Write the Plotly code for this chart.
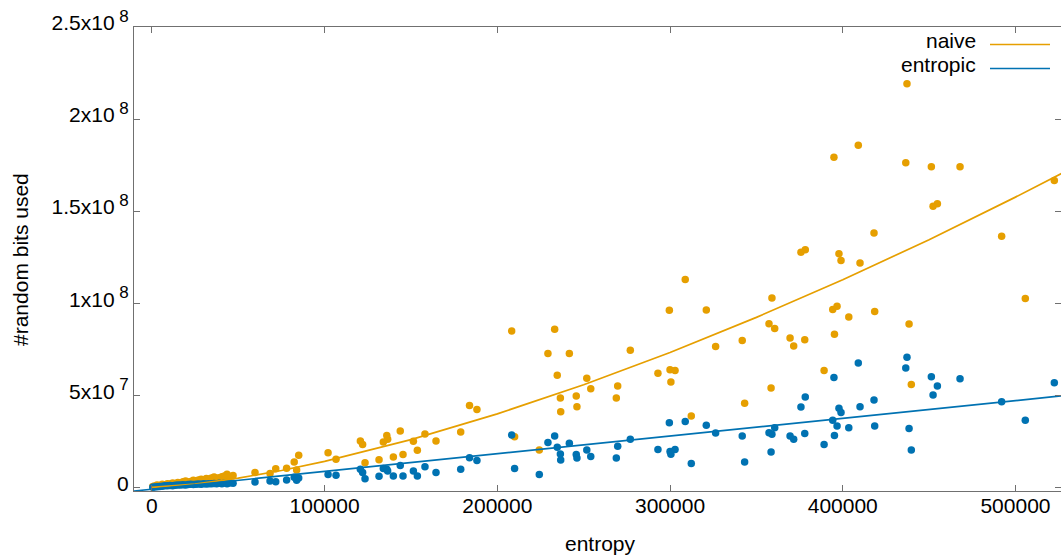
import plotly.graph_objects as go

# entropy values (shared by both series)
entropy = [
    500, 1500, 3000, 4500, 6000, 7500, 9000, 10500, 12000, 13500, 15000, 16500,
    18000, 19500, 21000, 22500, 24000, 25500, 27000, 28500, 30000, 31500, 33000,
    34500, 36000, 37500, 39000, 40500, 42000, 43500, 45000, 47000,
    59700, 68400, 71700, 78000, 82400, 83800, 85000, 102000, 106600, 120700,
    122000, 123400, 131500, 134000, 136000, 136500, 139800, 143800, 145400,
    151400, 153700, 158100, 164500, 178800, 183900, 188200, 208300, 210000,
    224300, 229300, 233200, 234700, 236500, 236700, 241700, 245700, 246100,
    251800, 254100, 269700, 268900, 277000, 293000, 299600, 300000, 302900,
    300500, 308800, 312300, 321000, 326400, 341800, 343200, 357300, 360600,
    359000, 358500, 369500, 371600, 375800, 378000, 378300, 389200, 394200,
    394900, 395200, 396700, 397800, 399000, 403500, 409000, 410000, 418100,
    418500, 436500, 437200, 438400, 439700, 451300, 452300, 454800, 467900,
    492000, 505700, 522500,
]

naive = [
    0.4e6, 0.7e6, 1.2e6, 1.0e6, 1.6e6, 1.4e6, 2.0e6, 1.8e6, 2.3e6, 2.1e6, 2.6e6, 2.4e6,
    3.0e6, 3.4e6, 2.9e6, 3.2e6, 3.8e6, 3.5e6, 4.0e6, 4.4e6, 3.9e6, 4.8e6, 4.5e6,
    5.0e6, 5.6e6, 4.9e6, 5.2e6, 5.8e6, 6.1e6, 7.1e6, 5.9e6, 6.4e6,
    7.98e6, 7.44e6, 10.15e6, 10.3e6, 13.7e6, 9.39e6, 17.4e6, 18.8e6, 15.2e6, 25.1e6,
    23.3e6, 13.4e6, 15.0e6, 24.6e6, 28.2e6, 26.1e6, 16.5e6, 30.6e6, 17.8e6,
    25.0e6, 20.1e6, 28.9e6, 25.1e6, 30.0e6, 44.5e6, 42.3e6, 84.9e6, 27.5e6,
    20.3e6, 72.7e6, 85.8e6, 60.8e6, 48.5e6, 41.1e6, 72.7e6, 49.6e6, 43.8e6,
    59.3e6, 53.6e6, 55.0e6, 48.5e6, 74.5e6, 61.9e6, 96.1e6, 63.9e6, 63.4e6,
    57.2e6, 112.9e6, 38.7e6, 96.3e6, 76.5e6, 79.8e6, 45.6e6, 88.9e6, 86.2e6,
    102.8e6, 53.9e6, 81.1e6, 76.7e6, 127.7e6, 80.2e6, 129.0e6, 63.4e6, 96.6e6,
    179.3e6, 83.1e6, 98.3e6, 126.9e6, 123.2e6, 92.5e6, 185.8e6, 121.8e6, 138.1e6,
    95.5e6, 176.3e6, 219.2e6, 88.7e6, 55.8e6, 174.1e6, 152.7e6, 154.0e6, 174.1e6,
    136.3e6, 102.6e6, 166.7e6,
]

entropic = [
    0.1e6, 0.2e6, 0.35e6, 0.5e6, 0.6e6, 0.8e6, 0.9e6, 1.0e6, 0.9e6, 1.1e6, 1.3e6, 1.2e6,
    1.4e6, 1.3e6, 1.5e6, 1.6e6, 1.5e6, 1.7e6, 1.8e6, 1.6e6, 1.9e6, 1.8e6, 2.0e6,
    1.9e6, 2.1e6, 2.0e6, 2.2e6, 1.9e6, 2.3e6, 2.0e6, 2.4e6, 2.2e6,
    2.88e6, 3.42e6, 3.09e6, 3.96e6, 5.43e6, 3.8e6, 5.05e6, 6.9e6, 6.5e6, 9.77e6,
    7.98e6, 4.72e6, 5.97e6, 10.2e6, 9.77e6, 8.85e6, 6.13e6, 11.9e6, 6.13e6,
    8.85e6, 6.13e6, 11.2e6, 7.98e6, 9.77e6, 16.1e6, 14.5e6, 28.4e6, 10.2e6,
    6.9e6, 24.4e6, 27.9e6, 21.7e6, 18.1e6, 14.8e6, 23.9e6, 17.8e6, 15.9e6,
    20.3e6, 16.8e6, 22.3e6, 15.9e6, 26.1e6, 20.5e6, 35.1e6, 19.4e6, 20.5e6,
    17.9e6, 35.7e6, 13.0e6, 33.7e6, 29.5e6, 27.9e6, 13.7e6, 29.7e6, 32.4e6,
    28.8e6, 19.2e6, 27.9e6, 26.1e6, 43.6e6, 29.2e6, 49.0e6, 23.2e6, 36.4e6,
    59.6e6, 28.2e6, 33.3e6, 42.9e6, 40.7e6, 32.4e6, 67.5e6, 43.8e6, 47.4e6,
    33.3e6, 64.8e6, 70.7e6, 31.9e6, 20.3e6, 60.1e6, 50.1e6, 55.0e6, 59.0e6,
    46.5e6, 36.4e6, 56.8e6,
]

# fitted curves
naive_fit_x = [0, 25000, 50000, 75000, 100000, 150000, 200000, 250000, 300000,
               350000, 400000, 450000, 500000, 527000]
naive_fit_y = [0, 1.76e6, 4.98e6, 9.15e6, 1.41e7, 2.59e7, 3.99e7, 5.57e7, 7.32e7,
               9.23e7, 1.127e8, 1.345e8, 1.576e8, 1.706e8]
entropic_fit_x = [-10400, 0, 100000, 200000, 300000, 400000, 500000, 527000]
entropic_fit_y = [-2.0e6, -1.0e6, 8.6e6, 18.2e6, 27.9e6, 37.5e6, 47.1e6, 49.7e6]

x_ticks = [0, 100000, 200000, 300000, 400000, 500000]
x_tick_labels = ["0", "100000", "200000", "300000", "400000", "500000"]
y_ticks = [0, 5e7, 1e8, 1.5e8, 2e8, 2.5e8]
y_tick_mant = ["0", "5x10", "1x10", "1.5x10", "2x10", "2.5x10"]
y_tick_exp = ["", "7", "8", "8", "8", "8"]

ORANGE = "#E69F00"
BLUE = "#0072B2"
FONT = "Liberation Sans, Arial, sans-serif"

y_tick_labels = [
    m + (f"<sup><span style='font-size:17px'> {e}</span></sup>" if e else "")
    for m, e in zip(y_tick_mant, y_tick_exp)
]

fig = go.Figure()
fig.add_trace(go.Scatter(x=entropy, y=naive, mode="markers",
                         marker=dict(color=ORANGE, size=7.5, line=dict(width=0)),
                         showlegend=False))
fig.add_trace(go.Scatter(x=entropy, y=entropic, mode="markers",
                         marker=dict(color=BLUE, size=7.5, line=dict(width=0)),
                         showlegend=False))
fig.add_trace(go.Scatter(x=naive_fit_x, y=naive_fit_y, mode="lines",
                         line=dict(color=ORANGE, width=1.7), showlegend=False))
fig.add_trace(go.Scatter(x=entropic_fit_x, y=entropic_fit_y, mode="lines",
                         line=dict(color=BLUE, width=1.7), showlegend=False))

axis_common = dict(showgrid=False, zeroline=False, showline=True, linecolor="#707070",
                   linewidth=1, mirror="ticks", ticks="inside", ticklen=6,
                   tickcolor="#707070", tickfont=dict(family=FONT, size=21, color="black"))

fig.update_xaxes(range=[-10364, 526370], tickvals=x_ticks, ticktext=x_tick_labels,
                 ticklabelstandoff=-4, **axis_common)
fig.update_yaxes(range=[-2.0e6, 2.5e8], tickvals=y_ticks, ticktext=y_tick_labels,
                 ticklabelshift=-4, **axis_common)

PW, PH, L, TOP = 927, 464, 134, 27
BOT = TOP + PH

annotations = [
    dict(text="entropy", xref="paper", yref="paper", x=(600 - L) / PW,
         y=(BOT - 543) / PH, showarrow=False, xanchor="center", yanchor="middle",
         font=dict(family=FONT, size=21, color="black")),
    dict(text="#random bits used", xref="paper", yref="paper", x=(20 - L) / PW,
         y=(BOT - 260) / PH, showarrow=False, xanchor="center", yanchor="middle",
         textangle=-90, font=dict(family=FONT, size=21, color="black")),
    dict(text="naive", xref="paper", yref="paper", x=(978 - L) / PW,
         y=(BOT - 41) / PH, showarrow=False, xanchor="right", yanchor="middle",
         font=dict(family=FONT, size=21, color="black")),
    dict(text="entropic", xref="paper", yref="paper", x=(978 - L) / PW,
         y=(BOT - 64) / PH, showarrow=False, xanchor="right", yanchor="middle",
         font=dict(family=FONT, size=21, color="black")),
]
shapes = [
    dict(type="line", xref="paper", yref="paper", x0=(990 - L) / PW,
         x1=(1050 - L) / PW, y0=(BOT - 44.5) / PH, y1=(BOT - 44.5) / PH,
         line=dict(color=ORANGE, width=1.7)),
    dict(type="line", xref="paper", yref="paper", x0=(990 - L) / PW,
         x1=(1050 - L) / PW, y0=(BOT - 68.5) / PH, y1=(BOT - 68.5) / PH,
         line=dict(color=BLUE, width=1.7)),
]

fig.update_layout(width=1061, height=560, margin=dict(l=L, r=0, t=TOP, b=560 - BOT),
                  plot_bgcolor="white", paper_bgcolor="white",
                  annotations=annotations, shapes=shapes, showlegend=False,
                  font=dict(family=FONT, size=21, color="black"))

fig.write_html("out.html")
